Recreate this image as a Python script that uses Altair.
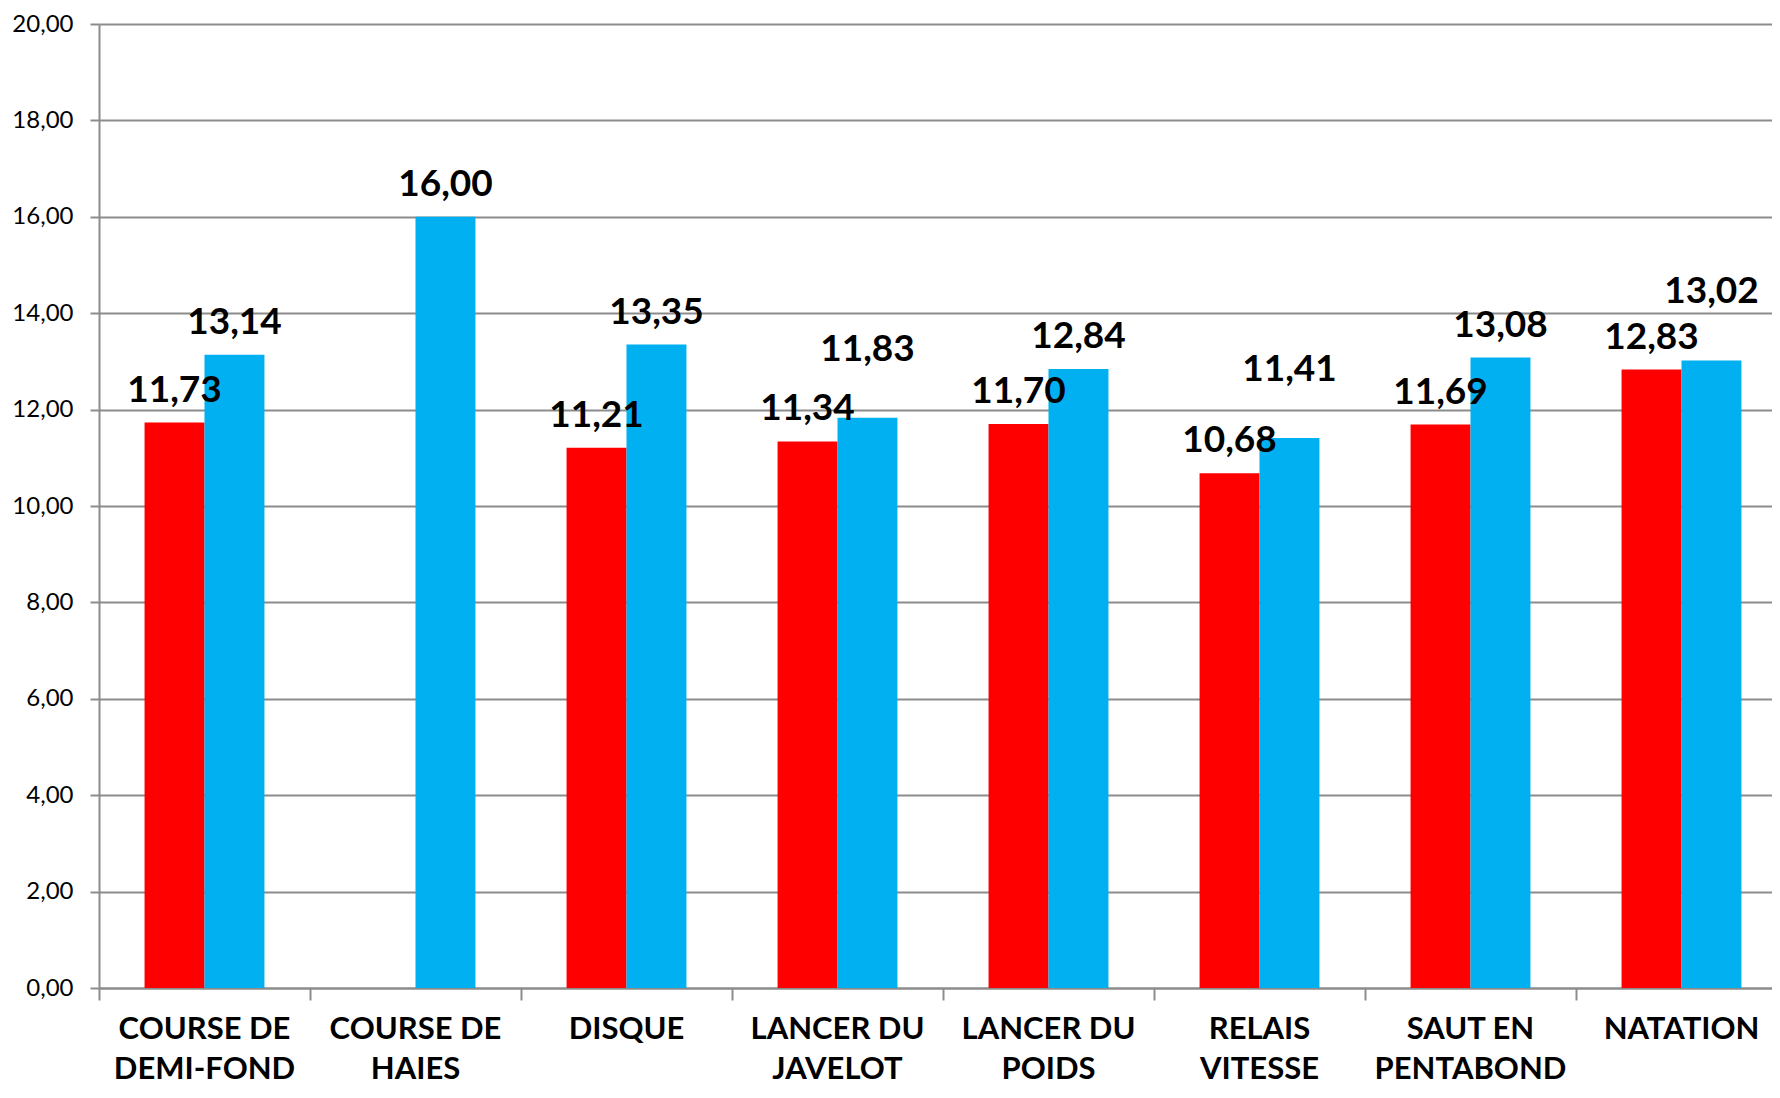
import altair as alt
import pandas as pd

# ---- data ----
categories = [
    "COURSE DE\nDEMI-FOND",
    "COURSE DE\nHAIES",
    "DISQUE",
    "LANCER DU\nJAVELOT",
    "LANCER DU\nPOIDS",
    "RELAIS\nVITESSE",
    "SAUT EN\nPENTABOND",
    "NATATION",
]
series_names = ["Série 1", "Série 2"]
serie_1 = [11.73, None, 11.21, 11.34, 11.70, 10.68, 11.69, 12.83]
serie_2 = [13.14, 16.00, 13.35, 11.83, 12.84, 11.41, 13.08, 13.02]
y_ticks = [0, 2, 4, 6, 8, 10, 12, 14, 16, 18, 20]
colors = ["#FF0000", "#00B0F0"]

# labels that the original chart moved higher to avoid overlap
raised_labels = [
    ("LANCER DU\nJAVELOT", "Série 2"),
    ("RELAIS\nVITESSE", "Série 2"),
    ("NATATION", "Série 2"),
]

rows = []
for name, vals in zip(series_names, [serie_1, serie_2]):
    for cat, v in zip(categories, vals):
        if v is None:
            continue
        rows.append({
            "cat": cat,
            "series": name,
            "value": v,
            "raised": (cat, name) in raised_labels,
        })
df = pd.DataFrame(rows)

FONT = "Lato"
GRID = "#8c8c8c"

x_enc = alt.X(
    "cat:N",
    sort=categories,
    scale=alt.Scale(range=[0, 1688], paddingInner=0, paddingOuter=0),
    axis=alt.Axis(
        title=None,
        labelExpr="split(datum.value, '\\n')",
        labelFont=FONT,
        labelFontWeight="bold",
        labelFontSize=31,
        labelColor="black",
        labelLineHeight=40,
        labelPadding=14,
        labelAngle=0,
        labelLimit=400,
        labelOverlap=False,
        tickSize=12,
        tickColor=GRID,
        tickWidth=2,
        domainColor=GRID,
        domainWidth=2,
        bandPosition=0,
        grid=False,
    ),
)
xoff_enc = alt.XOffset(
    "series:N",
    scale=alt.Scale(domain=series_names, paddingInner=0, paddingOuter=0.76),
)
y_enc = alt.Y(
    "value:Q",
    scale=alt.Scale(domain=[0, 20], nice=False, zero=True),
    axis=alt.Axis(
        title=None,
        values=y_ticks,
        labelExpr="replace(format(datum.value, '.2f'), '.', ',')",
        labelFont=FONT,
        labelFontSize=24,
        labelColor="black",
        labelPadding=17,
        tickSize=9,
        tickColor=GRID,
        tickWidth=2,
        domainColor=GRID,
        domainWidth=2,
        gridColor=GRID,
        gridWidth=2,
        gridOpacity=1,
    ),
)

base = alt.Chart(df).encode(x=x_enc, xOffset=xoff_enc, y=y_enc)

bars = base.mark_bar().encode(
    color=alt.Color("series:N", scale=alt.Scale(domain=series_names, range=colors), legend=None)
)

label_txt = base.transform_calculate(
    label="replace(format(datum.value, '.2f'), '.', ',')"
)
text_style = dict(font=FONT, fontWeight="bold", fontSize=37, color="black",
                  baseline="alphabetic", align="center")
labels_normal = label_txt.transform_filter("!datum.raised").mark_text(dy=-21, **text_style).encode(
    text="label:N"
)
labels_raised = label_txt.transform_filter("datum.raised").mark_text(dy=-57, **text_style).encode(
    text="label:N"
)

chart = (
    alt.layer(bars, labels_normal, labels_raised)
    .properties(
        width=1673,
        height=964,
        autosize=alt.AutoSizeParams(type="none"),
        padding={"left": 91, "top": 16, "right": 0, "bottom": 100},
        background="white",
    )
    .configure_view(stroke=None)
)

chart.save("out.html", embed_options={"renderer": "svg", "actions": False})
